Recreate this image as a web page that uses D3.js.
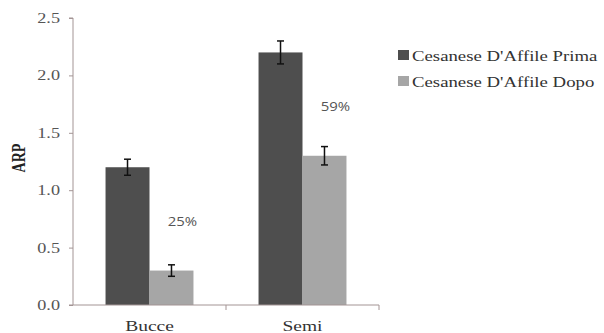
<!DOCTYPE html>
<html>
<head>
<meta charset="utf-8">
<script src="https://cdn.jsdelivr.net/npm/d3@7"></script>
<style>
  html, body { margin: 0; padding: 0; background: #fff; }
  svg { display: block; }
</style>
</head>
<body>
<svg id="chart" width="604" height="333"></svg>
<script>
// Chart data
const categories = ["Bucce", "Semi"];
const seriesNames = ["Cesanese D'Affile Prima", "Cesanese D'Affile Dopo"];
const primaValues = [1.2, 2.2];
const dopoValues = [0.3, 1.3];
const primaErrors = [0.07, 0.1];
const dopoErrors = [0.05, 0.08];
const percentLabels = ["25%", "59%"];
const yTicks = [0, 0.5, 1.0, 1.5, 2.0, 2.5];

const colors = ["#4e4e4e", "#a6a6a6"];
const axisColor = "#a39494";
const serif = "'Liberation Serif', 'Times New Roman', serif";
const stretch = 1.3; // horizontal widening of the lettering

const svg = d3.select("#chart");
const x0 = 73, x1 = 379, yTop = 18, yBottom = 305;

const x = d3.scaleBand().domain(categories).range([x0, x1]).paddingInner(0).paddingOuter(0);
const xs = d3.scaleBand().domain(seriesNames).range([0, x.bandwidth()]).paddingOuter(0.74).paddingInner(0);
const y = d3.scaleLinear().domain([0, 2.5]).range([yBottom, yTop]);

const rows = categories.map((c, i) => ({
  cat: c,
  vals: [
    { s: seriesNames[0], v: primaValues[i], e: primaErrors[i] },
    { s: seriesNames[1], v: dopoValues[i], e: dopoErrors[i] }
  ],
  pct: percentLabels[i]
}));

// Bars
const g = svg.append("g");
const groups = g.selectAll("g.cat").data(rows).join("g")
  .attr("transform", d => `translate(${x(d.cat)},0)`);

groups.selectAll("rect").data(d => d.vals).join("rect")
  .attr("x", d => xs(d.s))
  .attr("y", d => y(d.v))
  .attr("width", xs.bandwidth())
  .attr("height", d => y(0) - y(d.v))
  .attr("fill", (d, i) => colors[i]);

// Error bars
groups.selectAll("g.err").data(d => d.vals).join("g").each(function(d) {
  const cx = xs(d.s) + xs.bandwidth() / 2;
  const e = d3.select(this);
  e.append("line").attr("x1", cx).attr("x2", cx).attr("y1", y(d.v + d.e)).attr("y2", y(d.v - d.e));
  e.append("line").attr("x1", cx - 3.5).attr("x2", cx + 3.5).attr("y1", y(d.v + d.e)).attr("y2", y(d.v + d.e));
  e.append("line").attr("x1", cx - 3.5).attr("x2", cx + 3.5).attr("y1", y(d.v - d.e)).attr("y2", y(d.v - d.e));
}).selectAll("line").attr("stroke", "#111").attr("stroke-width", 1.5);

// Percent labels between groups
groups.append("text")
  .attr("transform", d => `translate(${xs(seriesNames[1]) + xs.bandwidth() / 2 + 11},${y((d.vals[0].v + d.vals[1].v) / 2) + 7}) scale(1.15,1)`)
  .attr("text-anchor", "middle")
  .attr("font-family", "'Open Sans', 'DejaVu Sans', sans-serif")
  .attr("font-size", 13)
  .attr("fill", "#555")
  .text(d => d.pct);

// Y axis
const yAxis = d3.axisLeft(y).tickValues(yTicks).tickFormat(d3.format(".1f")).tickSize(4).tickPadding(9);
const ya = svg.append("g").attr("transform", `translate(${x0},0)`).call(yAxis);
ya.select(".domain").attr("stroke", axisColor).attr("d", `M-4,${yTop}H0V${yBottom}H-4`);
ya.selectAll(".tick line").attr("stroke", axisColor);
ya.selectAll(".tick text")
  .attr("x", 0)
  .attr("transform", `translate(-13,0) scale(${stretch},1)`)
  .attr("font-family", serif)
  .attr("font-size", 14)
  .attr("fill", "#555");

// X axis
const xAxis = d3.axisBottom(x).tickSize(0).tickPadding(15);
const xa = svg.append("g").attr("transform", `translate(0,${yBottom})`).call(xAxis);
xa.select(".domain").attr("stroke", axisColor).attr("d", `M${x0},0H${x1}V5`);
xa.append("line").attr("x1", x(categories[1])).attr("x2", x(categories[1])).attr("y1", 0).attr("y2", 5).attr("stroke", axisColor);
xa.selectAll(".tick text")
  .attr("transform", `scale(${stretch},1)`)
  .attr("font-family", serif)
  .attr("font-size", 15)
  .attr("fill", "#333");

// Y axis title
svg.append("text")
  .attr("transform", `translate(25,158) rotate(-90) scale(1,${stretch})`)
  .attr("text-anchor", "middle")
  .attr("font-family", serif)
  .attr("font-weight", "bold")
  .attr("font-size", 14)
  .attr("fill", "#222")
  .text("ARP");

// Legend
const legend = svg.append("g").attr("transform", "translate(398,50)");
const li = legend.selectAll("g").data(seriesNames).join("g")
  .attr("transform", (d, i) => `translate(0,${i * 26})`);
li.append("rect").attr("width", 11).attr("height", 10).attr("y", 0).attr("fill", (d, i) => colors[i]);
li.append("text")
  .attr("transform", `translate(14,11) scale(1.26,1)`)
  .attr("font-family", serif)
  .attr("font-size", 14.9)
  .attr("fill", "#333")
  .text(d => d);
</script>
</body>
</html>
